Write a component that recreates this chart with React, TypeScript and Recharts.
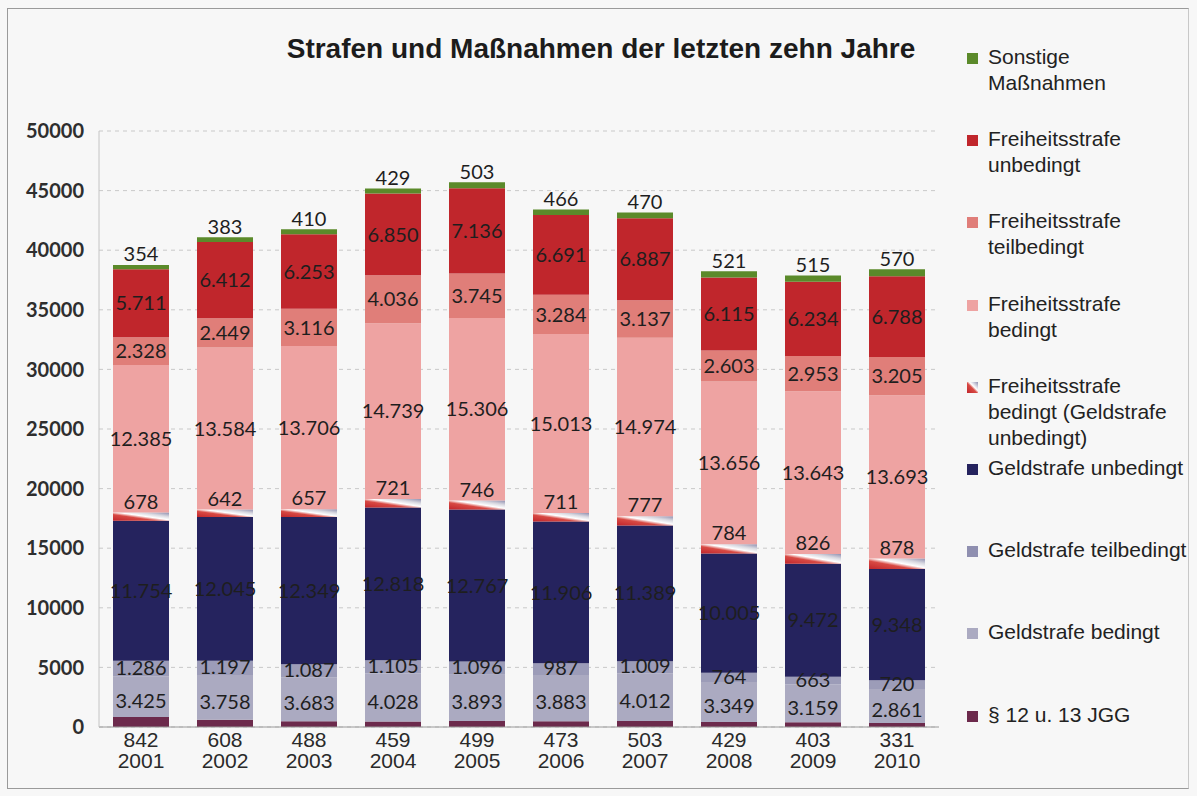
import { BarChart, Bar, XAxis, YAxis, CartesianGrid, LabelList } from "recharts";

const years = ["2001", "2002", "2003", "2004", "2005", "2006", "2007", "2008", "2009", "2010"];
const jgg = [842, 608, 488, 459, 499, 473, 503, 429, 403, 331];
const geldBedingt = [3425, 3758, 3683, 4028, 3893, 3883, 4012, 3349, 3159, 2861];
const geldTeilbedingt = [1286, 1197, 1087, 1105, 1096, 987, 1009, 764, 663, 720];
const geldUnbedingt = [11754, 12045, 12349, 12818, 12767, 11906, 11389, 10005, 9472, 9348];
const freiBedingtGeld = [678, 642, 657, 721, 746, 711, 777, 784, 826, 878];
const freiBedingt = [12385, 13584, 13706, 14739, 15306, 15013, 14974, 13656, 13643, 13693];
const freiTeilbedingt = [2328, 2449, 3116, 4036, 3745, 3284, 3137, 2603, 2953, 3205];
const freiUnbedingt = [5711, 6412, 6253, 6850, 7136, 6691, 6887, 6115, 6234, 6788];
const sonstige = [354, 383, 410, 429, 503, 466, 470, 521, 515, 570];
const yTicks = [0, 5000, 10000, 15000, 20000, 25000, 30000, 35000, 40000, 45000, 50000];

const data = years.map((year, i) => ({
  year,
  jgg: jgg[i],
  geldBedingt: geldBedingt[i],
  geldTeilbedingt: geldTeilbedingt[i],
  geldUnbedingt: geldUnbedingt[i],
  freiBedingtGeld: freiBedingtGeld[i],
  freiBedingt: freiBedingt[i],
  freiTeilbedingt: freiTeilbedingt[i],
  freiUnbedingt: freiUnbedingt[i],
  sonstige: sonstige[i],
}));

// legend, top to bottom
const legendItems = [
  { lines: ["Sonstige", "Maßnahmen"], color: "#5b8a2a" },
  { lines: ["Freiheitsstrafe", "unbedingt"], color: "#c0262c" },
  { lines: ["Freiheitsstrafe", "teilbedingt"], color: "#e07e79" },
  { lines: ["Freiheitsstrafe", "bedingt"], color: "#eea3a2" },
  { lines: ["Freiheitsstrafe", "bedingt (Geldstrafe", "unbedingt)"], color: "url(#hatch)" },
  { lines: ["Geldstrafe unbedingt"], color: "#25235e" },
  { lines: ["Geldstrafe teilbedingt"], color: "#8f8fb0" },
  { lines: ["Geldstrafe bedingt"], color: "#abaac1" },
  { lines: ["§ 12 u. 13 JGG"], color: "#6c2a4c" },
];

const fmt = (v: number) => String(v).replace(/\B(?=(\d{3})+(?!\d))/g, ".");

const labelFont = { fontFamily: "Lato, sans-serif", fontSize: 20, fill: "#1e1e1e" };

const centerLabel = (shift: number) => (props: any) => {
  const { x, y, width, height, value } = props;
  return (
    <text x={x + width / 2} y={y + height / 2 + shift} dy="0.36em" textAnchor="middle" style={labelFont}>
      {fmt(value)}
    </text>
  );
};

const aboveLabel = (props: any) => {
  const { x, y, width, value } = props;
  return (
    <text x={x + width / 2} y={y - 11} dy="0.36em" textAnchor="middle" style={labelFont}>
      {fmt(value)}
    </text>
  );
};

const YearTick = (props: any) => {
  const { x, y, payload, index } = props;
  const style = { fontFamily: "'Liberation Sans', Arial, sans-serif", fontSize: 21, fill: "#2a2a2a" };
  return (
    <g>
      <text x={x} y={y + 20} textAnchor="middle" style={style}>
        {fmt(jgg[index])}
      </text>
      <text x={x} y={y + 41} textAnchor="middle" style={style}>
        {payload.value}
      </text>
    </g>
  );
};

export default function App() {
  return (
    <div style={{ position: "absolute", left: 0, top: 0, width: 1197, height: 796, background: "#f7f7f7" }}>
      <div
        style={{
          position: "absolute",
          left: 7,
          top: 8,
          width: 1182,
          height: 781,
          border: "1px solid #9a9a9a",
          borderRight: "1px solid #c8c8c8",
          boxSizing: "border-box",
        }}
      />
      <div
        style={{
          position: "absolute",
          left: 0,
          width: 1202,
          top: 33,
          textAlign: "center",
          fontFamily: "'Liberation Sans', Arial, sans-serif",
          fontWeight: 700,
          fontSize: 28,
          color: "#1c1c1c",
        }}
      >
        Strafen und Maßnahmen der letzten zehn Jahre
      </div>
      <BarChart
        width={1197}
        height={796}
        data={data}
        margin={{ top: 131, right: 258, left: 9, bottom: 19 }}
        barSize={56}
        style={{ position: "absolute", left: 0, top: 0 }}
      >
        <defs>
          <linearGradient id="hatch" x1="0" y1="1" x2="1" y2="0">
            <stop offset="0%" stopColor="#c0262c" />
            <stop offset="38%" stopColor="#d84a44" />
            <stop offset="55%" stopColor="#ffffff" />
            <stop offset="75%" stopColor="#d8d8e0" />
            <stop offset="100%" stopColor="#8f8fb0" />
          </linearGradient>
        </defs>
        <CartesianGrid vertical={false} stroke="#c9c9c9" strokeDasharray="4 4" />
        <XAxis
          dataKey="year"
          height={50}
          tickLine={false}
          tickSize={0}
          tickMargin={0}
          axisLine={{ stroke: "#9a9a9a" }}
          tick={<YearTick />}
          interval={0}
        />
        <YAxis
          width={90}
          domain={[0, 50000]}
          ticks={yTicks}
          interval={0}
          tickLine={false}
          tickSize={0}
          tickMargin={15}
          axisLine={{ stroke: "#c4c4c4" }}
          tick={{ fontFamily: "Lato, sans-serif", fontSize: 20, fontWeight: 700, fill: "#2e2e2e" }}
        />
        <Bar dataKey="jgg" stackId="a" fill="#6c2a4c" isAnimationActive={false} />
        <Bar dataKey="geldBedingt" stackId="a" fill="#abaac1" isAnimationActive={false}>
          <LabelList dataKey="geldBedingt" content={centerLabel(4)} />
        </Bar>
        <Bar dataKey="geldTeilbedingt" stackId="a" fill="#9c9cb8" isAnimationActive={false}>
          <LabelList dataKey="geldTeilbedingt" content={centerLabel(-1)} />
        </Bar>
        <Bar dataKey="geldUnbedingt" stackId="a" fill="#25235e" isAnimationActive={false}>
          <LabelList dataKey="geldUnbedingt" content={centerLabel(0)} />
        </Bar>
        <Bar dataKey="freiBedingtGeld" stackId="a" fill="url(#hatch)" isAnimationActive={false}>
          <LabelList dataKey="freiBedingtGeld" content={aboveLabel} />
        </Bar>
        <Bar dataKey="freiBedingt" stackId="a" fill="#eea3a2" isAnimationActive={false}>
          <LabelList dataKey="freiBedingt" content={centerLabel(0)} />
        </Bar>
        <Bar dataKey="freiTeilbedingt" stackId="a" fill="#e07e79" isAnimationActive={false}>
          <LabelList dataKey="freiTeilbedingt" content={centerLabel(0)} />
        </Bar>
        <Bar dataKey="freiUnbedingt" stackId="a" fill="#c0262c" isAnimationActive={false}>
          <LabelList dataKey="freiUnbedingt" content={centerLabel(0)} />
        </Bar>
        <Bar dataKey="sonstige" stackId="a" fill="#5b8a2a" isAnimationActive={false}>
          <LabelList dataKey="sonstige" content={aboveLabel} />
        </Bar>
      </BarChart>
      <svg width={0} height={0} style={{ position: "absolute" }}>
        <defs>
          <linearGradient id="hatchLegend" x1="0" y1="1" x2="1" y2="0">
            <stop offset="0%" stopColor="#c0262c" />
            <stop offset="45%" stopColor="#d84a44" />
            <stop offset="60%" stopColor="#ffffff" />
            <stop offset="100%" stopColor="#8f8fb0" />
          </linearGradient>
        </defs>
      </svg>
      {legendItems.map((item, i) => (
        <div
          key={i}
          style={{
            position: "absolute",
            left: 967,
            top: 44 + i * 82.2,
            fontFamily: "'Liberation Sans', Arial, sans-serif",
            fontSize: 21,
            lineHeight: "26px",
            color: "#222",
            whiteSpace: "nowrap",
          }}
        >
          <svg width={12} height={12} style={{ position: "absolute", left: 0, top: 9 }}>
            <rect
              width={11}
              height={11}
              fill={item.color === "url(#hatch)" ? "url(#hatchLegend)" : item.color}
            />
          </svg>
          <div style={{ marginLeft: 21 }}>
            {item.lines.map((l, j) => (
              <div key={j}>{l}</div>
            ))}
          </div>
        </div>
      ))}
    </div>
  );
}
